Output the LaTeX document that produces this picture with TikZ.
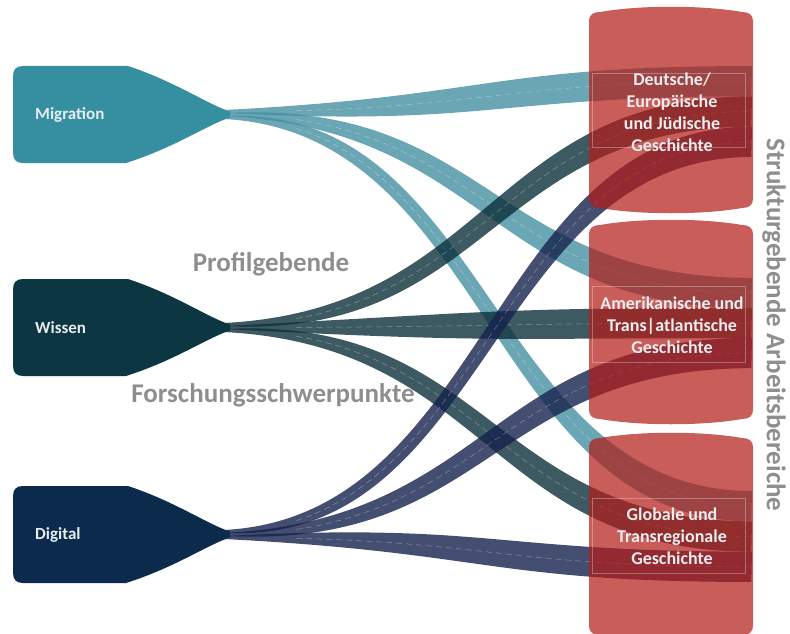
\documentclass[tikz,border=0pt]{standalone}
\usepackage{fontspec}
\setmainfont{Carlito}
\definecolor{migc}{HTML}{368FA0}
\definecolor{wisc}{HTML}{0B3642}
\definecolor{digc}{HTML}{0C2A4B}
\definecolor{migf}{HTML}{4590A1}
\definecolor{wisf}{HTML}{0D313B}
\definecolor{digf}{HTML}{15224C}
\definecolor{boxc}{HTML}{B31E1A}
\definecolor{graytxt}{HTML}{8E8E8E}
\definecolor{lighttxt}{HTML}{E8EEF0}
\tikzset{
  flowfill/.style={fill=#1, fill opacity=0.8},
  flowdash/.style={draw=white, draw opacity=0.35, line width=0.5pt, dash pattern=on 6pt off 4pt},
  boxfill/.style={fill=boxc, fill opacity=0.72},
  innerframe/.style={draw=white, draw opacity=0.3, line width=0.6pt},
  srclabel/.style={anchor=west, text=lighttxt, font=\bfseries\fontsize{17}{20}\selectfont, inner sep=0pt},
  boxtext/.style={align=center, text=lighttxt, font=\bfseries\fontsize{18}{22}\selectfont, inner sep=0pt},
  biglabel/.style={text=graytxt, font=\bfseries\fontsize{27}{30}\selectfont, inner sep=0pt},
}
% centre curve of a flow, parameters in \fys, \fyt, \fws, \fwt
\pgfmathdeclarefunction{fx}{1}{\pgfmathparse{224*(1-#1)^3+1470*(1-#1)^2*#1+1470*(1-#1)*#1*#1+752*#1*#1*#1}}
\pgfmathdeclarefunction{fy}{1}{\pgfmathparse{\fys+(\fyt-\fys)*(3*#1*#1-2*#1*#1*#1)}}
\pgfmathdeclarefunction{fhw}{1}{\pgfmathparse{0.5*(\fws+(\fwt-\fws)*(1-(1-#1)^3))}}
% source shape: #1 colour, #2 centre y
\newcommand\srcshape[2]{%
  \fill[#1] (23,#2-48.5) -- (128,#2-48.5)
    .. controls (175,#2-33) and (208,#2-10) .. (230,#2-3)
    -- (230,#2+3)
    .. controls (208,#2+10) and (175,#2+33) .. (126,#2+48.5)
    -- (23,#2+48.5)
    .. controls (16,#2+48.5) and (13,#2+45) .. (13,#2+38)
    -- (13,#2-38)
    .. controls (13,#2-45) and (16,#2-48.5) .. (23,#2-48.5) -- cycle;}
% flow: #1 colour, #2 source centre y, #3 target centre y
\newcommand\sflow[3]{%
  \def\fys{#2}\def\fyt{#3}\def\fws{3}\def\fwt{30.3}%
  \fill[flowfill=#1]
    plot[variable=\t, domain=0:1, samples=70, smooth] ({fx(\t)}, {fy(\t)+fhw(\t)})
    -- plot[variable=\t, domain=1:0, samples=70, smooth] ({fx(\t)}, {fy(\t)-fhw(\t)})
    -- cycle;
  \draw[flowdash] plot[variable=\t, domain=0.1:1, samples=50, smooth] ({fx(\t)}, {fy(\t)});}
% target box: #1 top centre y, #2 bottom centre y
\newcommand\tgtbox[2]{%
  \fill[boxfill] (589,#1+14) .. controls (589,#1+8) and (593,#1+5) .. (600,#1+5)
    .. controls (640,#1-2) and (702,#1-2) .. (742,#1+5)
    .. controls (749,#1+5) and (753,#1+8) .. (753,#1+14)
    -- (753,#2-14)
    .. controls (753,#2-8) and (749,#2-5) .. (742,#2-5)
    .. controls (702,#2+2) and (640,#2+2) .. (600,#2-5)
    .. controls (593,#2-5) and (589,#2-8) .. (589,#2-14) -- cycle;}
\begin{document}
\begin{tikzpicture}[x=1pt,y=-1pt]
\useasboundingbox (0,0) rectangle (790,634);
% flows
\sflow{migf}{111.5}{81.2}
\sflow{migf}{114.5}{293}
\sflow{migf}{117.5}{506.2}
\sflow{wisf}{324.5}{111.5}
\sflow{wisf}{327.5}{323}
\sflow{wisf}{330.5}{536.5}
\sflow{digf}{531.5}{141.8}
\sflow{digf}{534.5}{353}
\sflow{digf}{537.5}{566.8}
% sources
\srcshape{migc}{114.5}
\srcshape{wisc}{327.5}
\srcshape{digc}{534.5}
\node[srclabel] (migration) at (35,114.5) {Migration};
\node[srclabel] (wissen) at (35,327.5) {Wissen};
\node[srclabel] (digital) at (35,534.5) {Digital};
% targets
\tgtbox{7}{213}
\tgtbox{220}{424}
\tgtbox{433}{640}
\draw[innerframe] (592,73) rectangle (745,147);
\draw[innerframe] (592,286) rectangle (745,362);
\draw[innerframe] (592,498) rectangle (745,573);
\node[boxtext] (deutsch) at (672,112) {Deutsche/\\Europäische\\und Jüdische\\Geschichte};
\node[boxtext] (amerika) at (672,325) {Amerikanische und\\Trans|atlantische\\Geschichte};
\node[boxtext] (global) at (672,536) {Globale und\\Transregionale\\Geschichte};
% labels
\node[biglabel] (profil) at (271,264) {Profilgebende};
\node[biglabel] (forsch) at (273,395) {Forschungsschwerpunkte};
\node[biglabel, rotate=-90] (struktur) at (774,325) {Strukturgebende Arbeitsbereiche};
\end{tikzpicture}
\end{document}
